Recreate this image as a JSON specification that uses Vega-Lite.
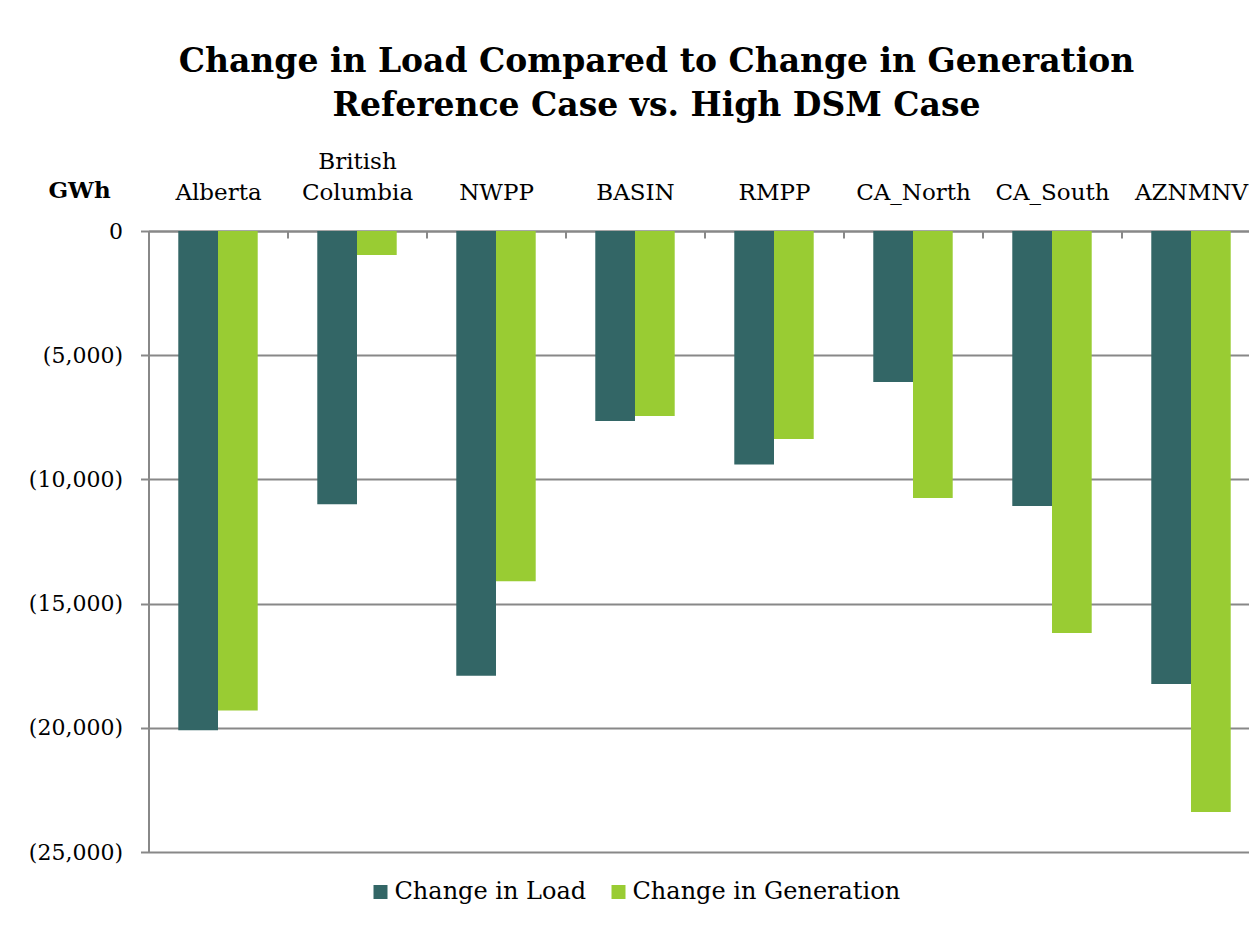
{
  "$schema": "https://vega.github.io/schema/vega-lite/v6.json",
  "width": 1112,
  "height": 621,
  "autosize": {"type": "none"},
  "padding": {"left": 148.5, "right": -11.5, "top": 231, "bottom": 95},
  "background": "white",
  "title": {
    "text": ["Change in Load Compared to Change in Generation", "Reference Case vs. High DSM Case"],
    "font": "DejaVu Serif",
    "fontSize": 33,
    "fontWeight": "bold",
    "color": "black",
    "lineHeight": 44,
    "anchor": "middle",
    "frame": "group",
    "dx": -48,
    "offset": 27
  },
  "data": {
    "values": [
      {"region": "Alberta", "series": "Change in Load", "value": -20100},
      {"region": "Alberta", "series": "Change in Generation", "value": -19300},
      {"region": "British Columbia", "series": "Change in Load", "value": -11000},
      {"region": "British Columbia", "series": "Change in Generation", "value": -970},
      {"region": "NWPP", "series": "Change in Load", "value": -17900},
      {"region": "NWPP", "series": "Change in Generation", "value": -14100},
      {"region": "BASIN", "series": "Change in Load", "value": -7650},
      {"region": "BASIN", "series": "Change in Generation", "value": -7450},
      {"region": "RMPP", "series": "Change in Load", "value": -9400},
      {"region": "RMPP", "series": "Change in Generation", "value": -8370},
      {"region": "CA_North", "series": "Change in Load", "value": -6080},
      {"region": "CA_North", "series": "Change in Generation", "value": -10750},
      {"region": "CA_South", "series": "Change in Load", "value": -11070},
      {"region": "CA_South", "series": "Change in Generation", "value": -16180},
      {"region": "AZNMNV", "series": "Change in Load", "value": -18240},
      {"region": "AZNMNV", "series": "Change in Generation", "value": -23390}
    ]
  },
  "mark": {"type": "bar"},
  "encoding": {
    "x": {
      "field": "region",
      "type": "nominal",
      "sort": null,
      "scale": {"paddingInner": 0, "paddingOuter": 0},
      "axis": {
        "orient": "top",
        "title": null,
        "labelAngle": 0,
        "labelExpr": "split(datum.label, ' ')",
        "labelFont": "DejaVu Serif",
        "labelFontSize": 23,
        "labelColor": "black",
        "labelLineHeight": 31,
        "labelBaseline": "alphabetic",
        "labelPadding": {"condition": {"test": "datum.value === 'British Columbia'", "value": 70}, "value": 39},
        "labelLimit": 0,
        "tickBand": "extent",
        "tickSize": -7,
        "tickColor": "#888888",
        "tickWidth": 2,
        "domainColor": "#888888",
        "domainWidth": 2,
        "grid": false
      }
    },
    "xOffset": {
      "field": "series",
      "type": "nominal",
      "sort": ["Change in Load", "Change in Generation"],
      "scale": {"paddingInner": 0, "paddingOuter": 0.75}
    },
    "y": {
      "field": "value",
      "type": "quantitative",
      "scale": {"domain": [-25000, 0], "nice": false},
      "axis": {
        "values": [0, -5000, -10000, -15000, -20000, -25000],
        "labelExpr": "datum.value < 0 ? '(' + format(-datum.value, ',') + ')' : format(datum.value, ',')",
        "labelFont": "DejaVu Serif",
        "labelFontSize": 22,
        "labelColor": "black",
        "labelPadding": 18,
        "tickSize": 8,
        "tickColor": "#888888",
        "tickWidth": 2,
        "domainColor": "#888888",
        "domainWidth": 2,
        "grid": true,
        "gridColor": "#888888",
        "gridWidth": 2,
        "title": "GWh",
        "titleFont": "DejaVu Serif",
        "titleFontSize": 23,
        "titleFontWeight": "bold",
        "titleColor": "black",
        "titleAngle": 0,
        "titleAlign": "center",
        "titleBaseline": "alphabetic",
        "titleX": -69.5,
        "titleY": -34
      }
    },
    "color": {
      "field": "series",
      "type": "nominal",
      "scale": {"domain": ["Change in Load", "Change in Generation"], "range": ["#336666", "#99CC33"]},
      "legend": {
        "title": null,
        "orient": "none",
        "direction": "horizontal",
        "legendX": 220,
        "legendY": 649,
        "symbolType": "square",
        "symbolSize": 196,
        "symbolStrokeWidth": 0,
        "labelFont": "DejaVu Serif",
        "labelFontSize": 24,
        "labelColor": "black",
        "labelOffset": 2,
        "labelLimit": 0,
        "columnPadding": 20,
        "padding": 0
      }
    }
  },
  "config": {
    "view": {"stroke": null}
  }
}
